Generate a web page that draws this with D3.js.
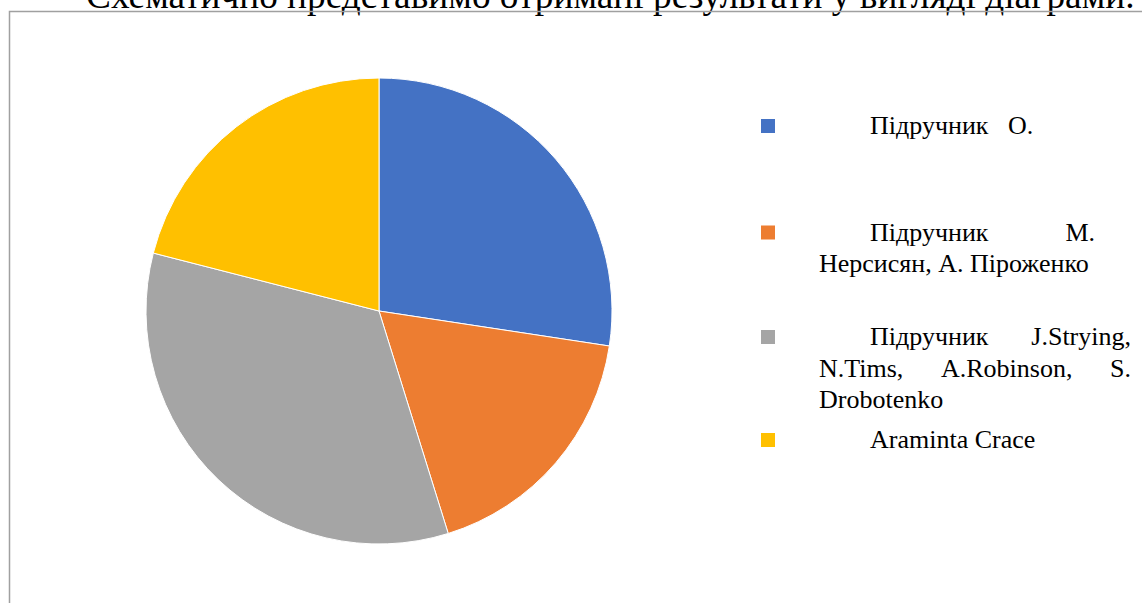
<!DOCTYPE html>
<html>
<head>
<meta charset="utf-8">
<script src="https://cdn.jsdelivr.net/npm/d3@7"></script>
<style>
  html, body { margin: 0; padding: 0; background: #fff; }
  svg { display: block; }
  text { font-family: "Liberation Serif", "Times New Roman", serif; }
</style>
</head>
<body>
<script>
  // Chart data
  const categories = ["Підручник О.", "Підручник М. Нерсисян, А. Піроженко", "Підручник J.Strying, N.Tims, A.Robinson, S. Drobotenko", "Araminta Crace"];
  const values = [27.4, 17.8, 33.8, 21.0];
  const colors = ["#4472c4", "#ed7d31", "#a5a5a5", "#ffc000"];
  // legend text broken into lines the way the document shows them
  const legendLines = [
    ["Підручник   О."],
    ["Підручник M.", "Нерсисян, А. Піроженко"],
    ["Підручник J.Strying,", "N.Tims, A.Robinson, S.", "Drobotenko"],
    ["Araminta Crace"]
  ];
  const heading = "Схематично представимо отримані результати у вигляді діаграми.";

  const width = 1142, height = 603;
  const svg = d3.select("body").append("svg")
    .attr("width", width)
    .attr("height", height);

  // heading line, cut off at the top
  const head = svg.append("text")
    .attr("x", 86)
    .attr("y", 8)
    .style("font-size", "30px")
    .attr("fill", "#000")
    .text(heading);
  const hw = head.node().getComputedTextLength();
  head.style("font-size", (30 * 1049 / hw) + "px");

  // chart frame
  svg.append("path")
    .attr("d", "M9.5,603 V11.5 H1142")
    .attr("fill", "none")
    .attr("stroke", "#a0a0a0")
    .attr("stroke-width", 1.5);

  // pie
  const cx = 379, cy = 311, r = 233;
  const pie = d3.pie().sort(null).value(d => d);
  const arc = d3.arc().innerRadius(0).outerRadius(r);
  svg.append("g")
    .attr("transform", `translate(${cx},${cy})`)
    .selectAll("path")
    .data(pie(values))
    .join("path")
    .attr("d", arc)
    .attr("fill", (d, i) => colors[i])
    .attr("stroke", "#fff")
    .attr("stroke-width", 1);

  // legend
  const fs = 26;
  const markerX = 761, indentX = 870, blockX = 819;
  const entryTop = [134, 240.5, 345, 448];
  const lineH = 31.5;
  const justifyEnd = [null, 1095, 1131, null];

  const legend = svg.append("g");
  legendLines.forEach((lines, i) => {
    const base = entryTop[i];
    legend.append("rect")
      .attr("x", markerX)
      .attr("y", base - 15)
      .attr("width", 14)
      .attr("height", 14)
      .attr("fill", colors[i]);

    lines.forEach((ln, j) => {
      const x0 = j === 0 ? indentX : blockX;
      const y = base + j * lineH;
      const isLast = j === lines.length - 1;
      const words = ln.split(/\s+/);
      if (!isLast && justifyEnd[i]) {
        // justified line: spread the words out to the right edge
        const nodes = words.map(w => legend.append("text")
          .attr("y", y)
          .style("font-size", fs + "px")
          .attr("fill", "#000")
          .text(w));
        const ws = nodes.map(n => n.node().getComputedTextLength());
        const gap = (justifyEnd[i] - x0 - d3.sum(ws)) / (words.length - 1);
        let x = x0;
        nodes.forEach((n, k) => { n.attr("x", x); x += ws[k] + gap; });
      } else {
        legend.append("text")
          .attr("x", x0)
          .attr("y", y)
          .style("font-size", fs + "px")
          .style("white-space", "pre")
          .attr("fill", "#000")
          .text(ln);
      }
    });
  });
</script>
</body>
</html>
